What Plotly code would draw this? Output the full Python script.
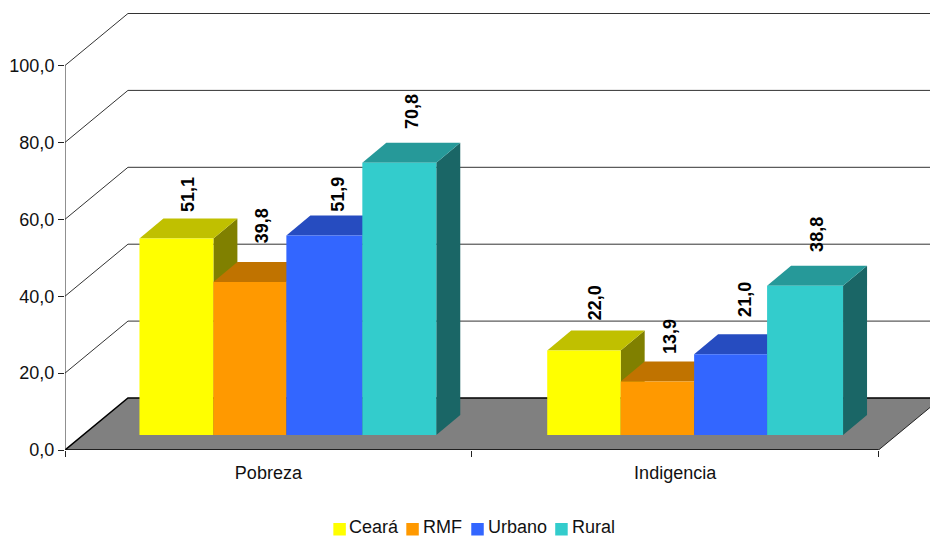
import plotly.graph_objects as go

# Poverty and extreme-poverty rates (%) by area
groups = ["Pobreza", "Indigencia"]
series = ["Ceará", "RMF", "Urbano", "Rural"]
ceara = [51.1, 22.0]
rmf = [39.8, 13.9]
urbano = [51.9, 21.0]
rural = [70.8, 38.8]

front_colors = ["#FFFF00", "#FF9900", "#3366FF", "#33CCCC"]
top_colors = ["#C0C000", "#C07300", "#264CC0", "#269999"]
side_colors = ["#808000", "#804C00", "#1A3380", "#1A6666"]

W, H = 930, 536
LEFT, BOTTOM = 64.5, 450.0
PX_PER_GROUP = 407.0
PX_PER_UNIT = 3.845
WALL_DX, WALL_DY = 63.0 / PX_PER_GROUP, 52.0 / PX_PER_UNIT
BAR_DX, BAR_DY = 24.0 / PX_PER_GROUP, 20.0 / PX_PER_UNIT
FLOOR_LIFT = 15.0 / PX_PER_UNIT


def gx(px):
    return (px - LEFT) / PX_PER_GROUP


# Bar edges inside each group
edges = [[gx(p) for p in (139, 213, 286, 362, 436)],
         [gx(p) for p in (547, 620.5, 694, 767, 843)]]
values = [ceara, rmf, urbano, rural]
# Label offsets from the front-top edge of each bar (x, y, in pixels)
label_shift = [
    [(11, 44), (11, 48)],
    [(12.5, 56), (12, 45)],
    [(14, 41), (14.5, 54.5)],
    [(12, 51), (12, 51)],
]
# Legend key positions along the page width (swatch left edge, text left edge)
legend_x = [(333, 349), (406, 423), (471, 488), (555, 572)]
LEGEND_TOP, LEGEND_SIZE = 523, 12.5

fig = go.Figure()


def poly(xs, ys, fill, name=None):
    fig.add_trace(go.Scatter(
        x=xs + xs[:1], y=ys + ys[:1], mode="lines", fill="toself",
        fillcolor=fill, line=dict(width=0, color=fill),
        hoverinfo="skip", showlegend=False, name=name))


def wire(xs, ys, width=1, color="#333333"):
    fig.add_trace(go.Scatter(
        x=xs, y=ys, mode="lines", line=dict(width=width, color=color),
        hoverinfo="skip", showlegend=False))


xmax = (W - LEFT) / PX_PER_GROUP
ymax = BOTTOM / PX_PER_UNIT

# Side and back walls with their gridlines
for level in (20, 40, 60, 80, 100):
    wire([0, WALL_DX, xmax], [level, level + WALL_DY, level + WALL_DY])

# Floor
poly([0, WALL_DX, 2 + WALL_DX, 2], [0, WALL_DY, WALL_DY, 0], "#808080")
wire([0, WALL_DX, xmax], [0, WALL_DY, WALL_DY], width=1.5, color="#000000")
wire([2, 2 + WALL_DX], [0, WALL_DY], color="#222222")
wire([0, 2], [0, 0], width=1.5, color="#000000")
wire([0, 0], [0, 100], color="#222222")

# Boxes: side and top faces first, then the front face, left to right
for g in range(len(groups)):
    for s in range(len(series)):
        x0, x1 = edges[g][s], edges[g][s + 1]
        y0 = FLOOR_LIFT
        y1 = FLOOR_LIFT + values[s][g]
        poly([x1, x1 + BAR_DX, x1 + BAR_DX, x1],
             [y0, y0 + BAR_DY, y1 + BAR_DY, y1], side_colors[s])
        poly([x0, x0 + BAR_DX, x1 + BAR_DX, x1],
             [y1, y1 + BAR_DY, y1 + BAR_DY, y1], top_colors[s])
        poly([x0, x1, x1, x0], [y0, y0, y1, y1], front_colors[s], name=series[s])
        dx, dy = label_shift[s][g]
        fig.add_annotation(
            x=(x0 + x1) / 2, y=y1, xref="x", yref="y",
            text="<b>" + f"{values[s][g]:.1f}".replace(".", ",") + "</b>",
            textangle=-90, showarrow=False, xshift=dx, yshift=dy,
            font=dict(size=18, color="#000000", family="Liberation Sans"))


def px_x(px):
    return (px - LEFT) / (W - LEFT)


def px_y(py):
    return (BOTTOM - py) / BOTTOM


# Legend keys sit tight against their labels, so they are laid out by hand
for s, name in enumerate(series):
    sx, tx = legend_x[s]
    fig.add_shape(type="rect", xref="paper", yref="paper", layer="above",
                  x0=px_x(sx), x1=px_x(sx + LEGEND_SIZE),
                  y0=px_y(LEGEND_TOP + LEGEND_SIZE), y1=px_y(LEGEND_TOP),
                  fillcolor=front_colors[s], line=dict(width=0))
    fig.add_annotation(x=px_x(tx), y=px_y(535.5), xref="paper", yref="paper",
                       text=name, showarrow=False, xanchor="left", yanchor="bottom",
                       height=17, borderpad=0, xshift=-1,
                       font=dict(size=18, color="#111111"))

fig.update_layout(
    width=W, height=H, autosize=False,
    margin=dict(l=LEFT, r=0, t=0, b=H - BOTTOM),
    paper_bgcolor="white", plot_bgcolor="white",
    separators=",.",
    font=dict(family="Liberation Sans", size=18, color="#111111"),
    showlegend=False,
    xaxis=dict(range=[0, xmax], showgrid=False, zeroline=False, showline=False,
               tickmode="array", tickvals=[0.5, 1.5], ticktext=groups,
               ticks="", ticklen=0, fixedrange=True, ticklabelstandoff=10,
               minor=dict(tickmode="array", tickvals=[0, 1, 2], ticks="outside",
                          ticklen=6, tickcolor="#222222", tickwidth=1, showgrid=False)),
    yaxis=dict(range=[0, ymax], showgrid=False, zeroline=False, showline=False,
               tickmode="array", tickvals=[0, 20, 40, 60, 80, 100],
               tickformat=".1f", ticks="outside", ticklen=6,
               tickcolor="#222222", tickwidth=1, fixedrange=True),
)

fig.write_html("out.html", config={"displayModeBar": False})
